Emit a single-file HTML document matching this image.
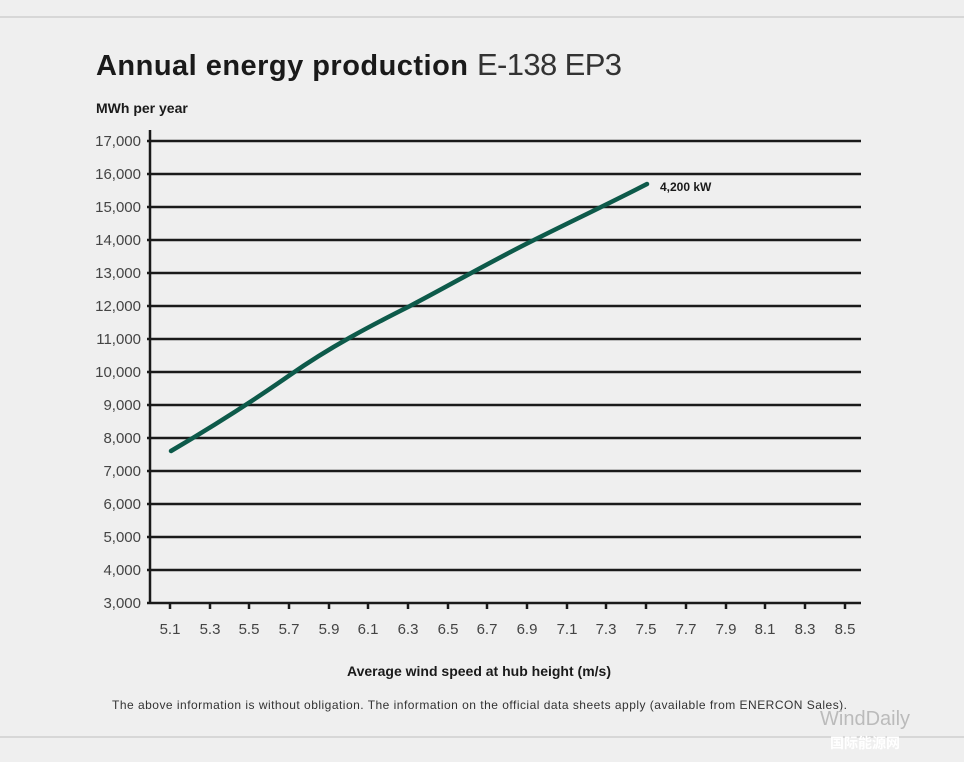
<!DOCTYPE html>
<html><head><meta charset="utf-8"><style>
body{margin:0;background:#efefef;}
svg{display:block;font-family:"Liberation Sans","DejaVu Sans",sans-serif;}
</style></head><body>
<svg width="964" height="762" viewBox="0 0 964 762" xmlns="http://www.w3.org/2000/svg">
<rect width="964" height="762" fill="#efefef"/>
<line x1="0" y1="17" x2="964" y2="17" fill="none" stroke="#cfcfcf" stroke-width="1.5"/>
<line x1="0" y1="737" x2="964" y2="737" fill="none" stroke="#cfcfcf" stroke-width="1.5"/>
<text x="96" y="75" font-size="29" fill="#1a1a1a"><tspan font-weight="bold" textLength="372">Annual energy production</tspan> <tspan x="477" font-weight="normal" fill="#333" font-size="31" textLength="145">E-138 EP3</tspan></text>
<text x="96" y="113" font-size="14" font-weight="bold" fill="#1a1a1a">MWh per year</text>
<g stroke="#1a1a1a" stroke-width="2.5">
<line x1="147" y1="141" x2="861" y2="141"/>
<line x1="147" y1="174" x2="861" y2="174"/>
<line x1="147" y1="207" x2="861" y2="207"/>
<line x1="147" y1="240" x2="861" y2="240"/>
<line x1="147" y1="273" x2="861" y2="273"/>
<line x1="147" y1="306" x2="861" y2="306"/>
<line x1="147" y1="339" x2="861" y2="339"/>
<line x1="147" y1="372" x2="861" y2="372"/>
<line x1="147" y1="405" x2="861" y2="405"/>
<line x1="147" y1="438" x2="861" y2="438"/>
<line x1="147" y1="471" x2="861" y2="471"/>
<line x1="147" y1="504" x2="861" y2="504"/>
<line x1="147" y1="537" x2="861" y2="537"/>
<line x1="147" y1="570" x2="861" y2="570"/>
<line x1="147" y1="603" x2="861" y2="603"/>
<line x1="150" y1="130" x2="150" y2="604"/>
</g>
<g stroke="#1a1a1a" stroke-width="2.5">
<line x1="170" y1="603" x2="170" y2="609"/><line x1="210" y1="603" x2="210" y2="609"/><line x1="249" y1="603" x2="249" y2="609"/><line x1="289" y1="603" x2="289" y2="609"/><line x1="329" y1="603" x2="329" y2="609"/><line x1="368" y1="603" x2="368" y2="609"/><line x1="408" y1="603" x2="408" y2="609"/><line x1="448" y1="603" x2="448" y2="609"/><line x1="487" y1="603" x2="487" y2="609"/><line x1="527" y1="603" x2="527" y2="609"/><line x1="567" y1="603" x2="567" y2="609"/><line x1="606" y1="603" x2="606" y2="609"/><line x1="646" y1="603" x2="646" y2="609"/><line x1="686" y1="603" x2="686" y2="609"/><line x1="726" y1="603" x2="726" y2="609"/><line x1="765" y1="603" x2="765" y2="609"/><line x1="805" y1="603" x2="805" y2="609"/><line x1="845" y1="603" x2="845" y2="609"/>
</g>
<g font-size="15" fill="#444" text-anchor="end">
<text x="141" y="146">17,000</text><text x="141" y="179">16,000</text><text x="141" y="212">15,000</text><text x="141" y="245">14,000</text><text x="141" y="278">13,000</text><text x="141" y="311">12,000</text><text x="141" y="344">11,000</text><text x="141" y="377">10,000</text><text x="141" y="410">9,000</text><text x="141" y="443">8,000</text><text x="141" y="476">7,000</text><text x="141" y="509">6,000</text><text x="141" y="542">5,000</text><text x="141" y="575">4,000</text><text x="141" y="608">3,000</text>
</g>
<g font-size="15" fill="#444" text-anchor="middle">
<text x="170" y="634">5.1</text><text x="210" y="634">5.3</text><text x="249" y="634">5.5</text><text x="289" y="634">5.7</text><text x="329" y="634">5.9</text><text x="368" y="634">6.1</text><text x="408" y="634">6.3</text><text x="448" y="634">6.5</text><text x="487" y="634">6.7</text><text x="527" y="634">6.9</text><text x="567" y="634">7.1</text><text x="606" y="634">7.3</text><text x="646" y="634">7.5</text><text x="686" y="634">7.7</text><text x="726" y="634">7.9</text><text x="765" y="634">8.1</text><text x="805" y="634">8.3</text><text x="845" y="634">8.5</text>
</g>
<path d="M171,451 C210,428 250,403 290,375 C330,347 370,326 410,306 C450,285 490,262 530,242 C570,222 610,203 647,184" fill="none" stroke="#0d5a4a" stroke-width="4.5" stroke-linecap="round"/>
<text x="660" y="191" font-size="12" font-weight="bold" fill="#1a1a1a">4,200 kW</text>
<text x="479" y="676" font-size="14" font-weight="bold" fill="#1a1a1a" text-anchor="middle">Average wind speed at hub height (m/s)</text>
<text x="112" y="709" font-size="12" fill="#333" textLength="735">The above information is without obligation. The information on the official data sheets apply (available from ENERCON Sales).</text>
<text x="820" y="725" font-size="20" fill="#bbb">WindDaily</text>
<text x="830" y="748" font-size="14" font-weight="bold" fill="#fff" font-family="Noto Sans CJK SC,sans-serif">国际能源网</text>
</svg>
</body></html>
